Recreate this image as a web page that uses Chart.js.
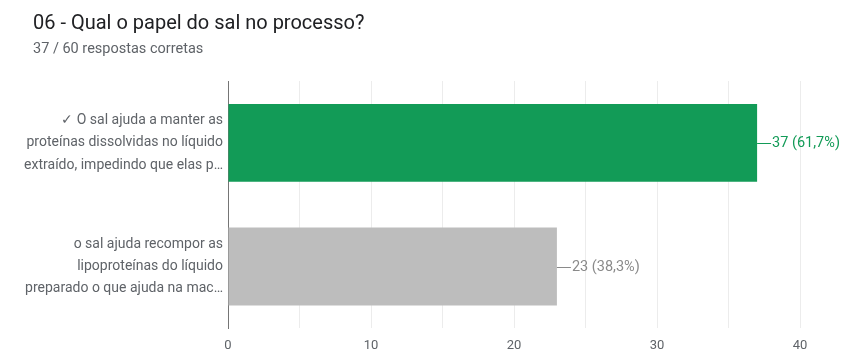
<!DOCTYPE html>
<html>
<head>
<meta charset="utf-8">
<script src="https://cdn.jsdelivr.net/npm/chart.js@4"></script>
<style>
  html, body { margin: 0; background: #fff; font-family: Roboto, Arial, sans-serif; overflow: hidden; }
  #wrap { position: relative; width: 846px; height: 352px; overflow: hidden; }
  #titulo { position: absolute; left: 33px; top: 10px; font-size: 20px; color: #202124; }
  #sub { position: absolute; left: 33px; top: 40px; font-size: 14.5px; color: #5f6368; }
  canvas { position: absolute; left: 0; top: 0; }
</style>
</head>
<body>
<div id="wrap">
  <!-- canvas um pouco mais alto: a parte de baixo (vazia) fica cortada -->
  <canvas id="grafico" width="846" height="367"></canvas>
  <div id="titulo">06 - Qual o papel do sal no processo?</div>
  <div id="sub">37 / 60 respostas corretas</div>
</div>
<script>
// dados do gráfico
const respostas = [
  ["✓ O sal ajuda a manter as", "proteínas dissolvidas no líquido", "extraído, impedindo que elas p…"],
  ["o sal ajuda recompor as", "lipoproteínas do líquido", "preparado o que ajuda na mac…"]
];
const quantidades = [37, 23];
const totalRespostas = 60;
const cores = ["#129b57", "#bdbdbd"];
const coresTexto = ["#129b57", "#8a8a8a"];
const ticksX = [0, 10, 20, 30, 40];

// rótulo "—37 (61,7%)" ao lado de cada barra
const rotulosBarras = {
  id: 'rotulosBarras',
  afterDatasetsDraw(chart) {
    const ctx = chart.ctx;
    const meta = chart.getDatasetMeta(0);
    ctx.save();
    ctx.font = '14.5px Roboto, Arial, sans-serif';
    ctx.textBaseline = 'middle';
    meta.data.forEach((bar, i) => {
      const v = quantidades[i];
      const pct = (v / totalRespostas * 100).toFixed(1).replace('.', ',');
      ctx.strokeStyle = coresTexto[i];
      ctx.lineWidth = 1;
      ctx.beginPath();
      ctx.moveTo(bar.x, Math.round(bar.y) + 0.5);
      ctx.lineTo(bar.x + 14, Math.round(bar.y) + 0.5);
      ctx.stroke();
      ctx.fillStyle = coresTexto[i];
      ctx.fillText(v + ' (' + pct + '%)', bar.x + 15, bar.y + 1);
    });
    ctx.restore();
  }
};

new Chart(document.getElementById('grafico').getContext('2d'), {
  type: 'bar',
  data: {
    labels: respostas,
    datasets: [{
      data: quantidades,
      backgroundColor: cores,
      borderWidth: 0,
      barPercentage: 0.63,
      categoryPercentage: 1
    }]
  },
  plugins: [rotulosBarras],
  options: {
    indexAxis: 'y',
    responsive: false,
    animation: false,
    layout: { padding: { top: 81, right: 46, bottom: 0, left: 0 } },
    plugins: { legend: { display: false }, tooltip: { enabled: false } },
    scales: {
      x: {
        min: ticksX[0],
        max: ticksX[ticksX.length - 1],
        ticks: {
          stepSize: 5,
          color: '#5f6368',
          font: { size: 13, family: 'Roboto, Arial, sans-serif' },
          padding: 10,
          callback: v => (ticksX.includes(v) ? v : '')
        },
        grid: { color: '#ececec', drawTicks: false },
        border: { display: false }
      },
      y: {
        ticks: {
          color: '#5f6368',
          font: { size: 14, family: 'Roboto, Arial, sans-serif', lineHeight: 1.6 },
          padding: 5
        },
        grid: { display: false, drawTicks: false },
        border: { display: true, color: '#757575', width: 1 },
        afterFit: s => { s.width = 228; }
      }
    }
  }
});
</script>
</body>
</html>
